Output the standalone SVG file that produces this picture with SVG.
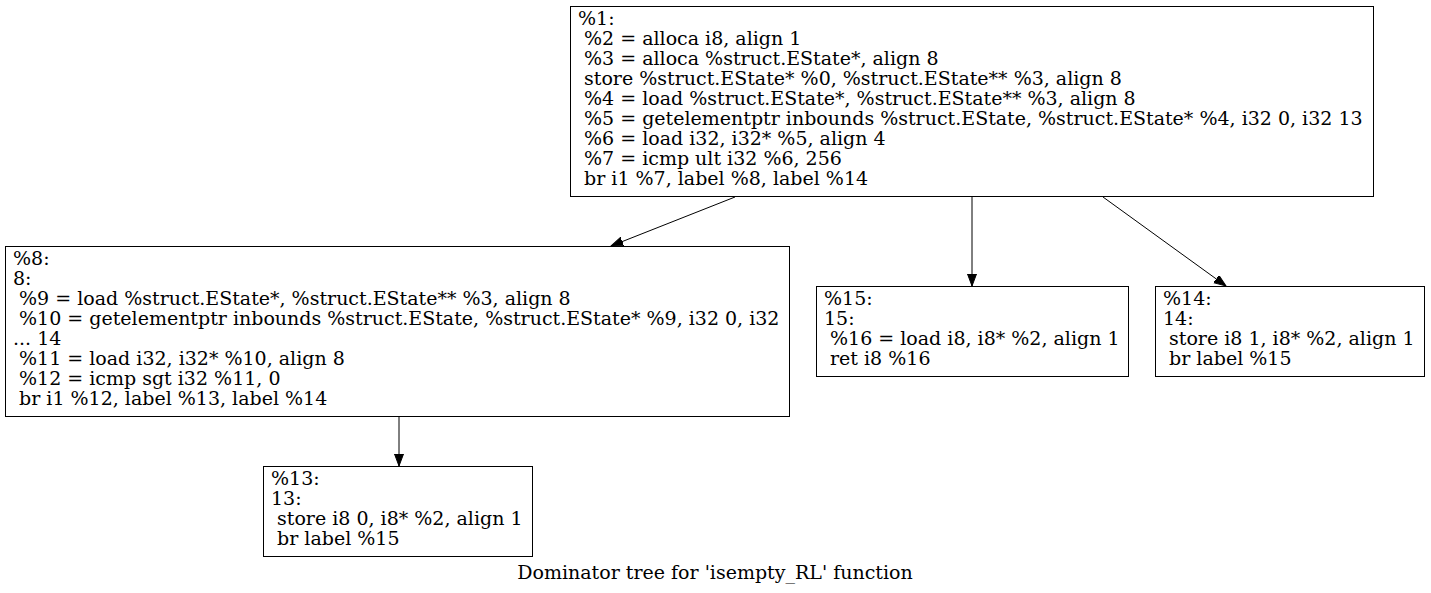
<svg xmlns="http://www.w3.org/2000/svg" width="1431" height="593" viewBox="0 0 1431 593">
<style>
  .box { fill: #ffffff; stroke: #000000; stroke-width: 1; }
  .t { font-family: "DejaVu Serif", "Liberation Serif", serif; font-size: 19px; fill: #000000; white-space: pre; }
  .title { font-family: "DejaVu Serif", "Liberation Serif", serif; font-size: 19px; fill: #000000; text-anchor: middle; }
  .edge { stroke: #000000; stroke-width: 1; fill: none; marker-end: url(#arrow); }
</style>
<defs>
  <marker id="arrow" markerUnits="userSpaceOnUse" markerWidth="14" markerHeight="10" refX="12" refY="4.5" orient="auto">
    <path d="M0,0 L12,4.5 L0,9 Z" fill="#000000" stroke="#000000" stroke-width="1"/>
  </marker>
</defs>
<rect width="1431" height="593" fill="#ffffff"/>
<g id="edges">
  <path class="edge" d="M735,197 L611,246"/>
  <path class="edge" d="M972,197 L972,286"/>
  <path class="edge" d="M1103,197 L1226,286"/>
  <path class="edge" d="M399,416.5 L399,466"/>
</g>
<g id="node1">
  <rect class="box" x="570.5" y="6.5" width="803" height="190"/>
  <text class="t" xml:space="preserve" x="578" y="25">%1:</text>
  <text class="t" xml:space="preserve" x="578" y="45"> %2 = alloca i8, align 1</text>
  <text class="t" xml:space="preserve" x="578" y="65"> %3 = alloca %struct.EState*, align 8</text>
  <text class="t" xml:space="preserve" x="578" y="85"> store %struct.EState* %0, %struct.EState** %3, align 8</text>
  <text class="t" xml:space="preserve" x="578" y="105"> %4 = load %struct.EState*, %struct.EState** %3, align 8</text>
  <text class="t" xml:space="preserve" x="578" y="125"> %5 = getelementptr inbounds %struct.EState, %struct.EState* %4, i32 0, i32 13</text>
  <text class="t" xml:space="preserve" x="578" y="145"> %6 = load i32, i32* %5, align 4</text>
  <text class="t" xml:space="preserve" x="578" y="165"> %7 = icmp ult i32 %6, 256</text>
  <text class="t" xml:space="preserve" x="578" y="185"> br i1 %7, label %8, label %14</text>
</g>
<g id="node8">
  <rect class="box" x="5.5" y="246.5" width="784" height="170"/>
  <text class="t" xml:space="preserve" x="13" y="265">%8:</text>
  <text class="t" xml:space="preserve" x="13" y="285">8:</text>
  <text class="t" xml:space="preserve" x="13" y="305"> %9 = load %struct.EState*, %struct.EState** %3, align 8</text>
  <text class="t" xml:space="preserve" x="13" y="325"> %10 = getelementptr inbounds %struct.EState, %struct.EState* %9, i32 0, i32</text>
  <text class="t" xml:space="preserve" x="13" y="345">... 14</text>
  <text class="t" xml:space="preserve" x="13" y="365"> %11 = load i32, i32* %10, align 8</text>
  <text class="t" xml:space="preserve" x="13" y="385"> %12 = icmp sgt i32 %11, 0</text>
  <text class="t" xml:space="preserve" x="13" y="405"> br i1 %12, label %13, label %14</text>
</g>
<g id="node15">
  <rect class="box" x="816.5" y="286.5" width="312" height="90"/>
  <text class="t" xml:space="preserve" x="824" y="305">%15:</text>
  <text class="t" xml:space="preserve" x="824" y="325">15:</text>
  <text class="t" xml:space="preserve" x="824" y="345"> %16 = load i8, i8* %2, align 1</text>
  <text class="t" xml:space="preserve" x="824" y="365"> ret i8 %16</text>
</g>
<g id="node14">
  <rect class="box" x="1155.5" y="286.5" width="269" height="90"/>
  <text class="t" xml:space="preserve" x="1163" y="305">%14:</text>
  <text class="t" xml:space="preserve" x="1163" y="325">14:</text>
  <text class="t" xml:space="preserve" x="1163" y="345"> store i8 1, i8* %2, align 1</text>
  <text class="t" xml:space="preserve" x="1163" y="365"> br label %15</text>
</g>
<g id="node13">
  <rect class="box" x="263.5" y="466.5" width="269" height="90"/>
  <text class="t" xml:space="preserve" x="271" y="485">%13:</text>
  <text class="t" xml:space="preserve" x="271" y="505">13:</text>
  <text class="t" xml:space="preserve" x="271" y="525"> store i8 0, i8* %2, align 1</text>
  <text class="t" xml:space="preserve" x="271" y="545"> br label %15</text>
</g>
<text class="title" x="715" y="579">Dominator tree for 'isempty_RL' function</text>
</svg>
